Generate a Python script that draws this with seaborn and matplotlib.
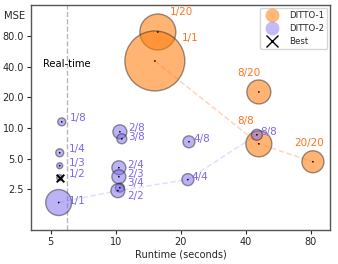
"""
DITTO-1 vs DITTO-2: MSE against runtime, bubble size per configuration.
"""

import pandas as pd
import matplotlib
matplotlib.use("Agg")
import matplotlib.pyplot as plt
from matplotlib.colors import to_rgba
from matplotlib.lines import Line2D
from matplotlib.ticker import FixedLocator, NullLocator
import seaborn as sns

# DITTO-1 configurations
d1_labels = ['1/20', '1/1', '8/20', '8/8', '20/20']
d1_runtime = [15.65, 15.16, 45.9, 45.9, 81.7]
d1_mse = [87.5, 45.5, 22.6, 7.0, 4.67]
d1_bubble = [18, 30, 12, 13, 11]

# DITTO-2 configurations
d2_labels = ['1/8', '2/8', '3/8', '1/4', '1/3', '1/2', '1/1',
             '2/4', '2/3', '3/4', '2/2', '4/8', '4/4', '8/8']
d2_runtime = [5.62, 10.44, 10.66, 5.50, 5.50, 5.50, 5.44,
              10.33, 10.33, 10.44, 10.22, 21.8, 21.55, 44.97]
d2_mse = [11.5, 9.19, 7.85, 5.72, 4.27, 3.26, 1.86,
          4.08, 3.33, 2.60, 2.43, 7.33, 3.12, 8.59]
d2_bubble = [4, 7, 5, 4, 3, 3, 13, 7, 7, 4.5, 7, 6, 6, 5.5]

# diagonal runs joined by a dashed line
d1_path = ['1/1', '8/8', '20/20']
d2_path = ['1/1', '2/2', '4/4', '8/8']

best_label = '1/2'
realtime = 5.95

x_ticks = [5, 10, 20, 40, 80]
y_ticks = [2.5, 5.0, 10.0, 20.0, 40.0, 80.0]

# label offsets in pixels (dx, dy)
d1_offsets = {'1/20': (12, 20), '1/1': (27, 23), '8/20': (-22, 19),
              '8/8': (-22, 23), '20/20': (-19, 19)}
d2_offsets = {'1/8': (8, 4), '2/8': (8, 4), '3/8': (6, 2), '1/4': (9, 4),
              '1/3': (9, 3), '1/2': (9, 4), '1/1': (10, 2), '2/4': (8, 3),
              '2/3': (8, 3), '3/4': (7, 5), '2/2': (9, -5), '4/8': (4, 3),
              '4/4': (4, 3), '8/8': (3, 3)}

ORANGE = '#ff7f0e'
ORANGE_TXT = '#ff7420'
BLUE = '#7b68ee'
BLUE_TXT = '#7b68ee'

d1 = pd.DataFrame({'label': d1_labels, 'runtime': d1_runtime,
                   'mse': d1_mse, 'bubble': d1_bubble})
d2 = pd.DataFrame({'label': d2_labels, 'runtime': d2_runtime,
                   'mse': d2_mse, 'bubble': d2_bubble})


def area(r):
    # radius in px -> marker area in pt^2 (dpi 100)
    return (2 * r * 0.72) ** 2


sns.set_style('ticks')
plt.rcParams['font.family'] = ['DejaVu Sans']

fig = plt.figure(figsize=(3.38, 2.64), dpi=100)
ax = fig.add_axes([31 / 338, 34 / 264, 299 / 338, 225 / 264])
ax.set_xscale('log')
ax.set_yscale('log')

# dashed paths
for df, path, col in [(d1, d1_path, '#ffb89a'), (d2, d2_path, '#cfcaff')]:
    sub = df.set_index('label').loc[path]
    ax.plot(sub['runtime'], sub['mse'], ls='--', color=col, lw=1.1,
            alpha=0.6, zorder=1)

ax.axvline(realtime, color='#b8b8b8', ls='--', lw=1.0, zorder=1)

for df, col, a in [(d1, ORANGE, 0.58), (d2, BLUE, 0.5)]:
    sns.scatterplot(data=df, x='runtime', y='mse', s=area(df['bubble']),
                    facecolor=to_rgba(col, a), edgecolor=(0.1, 0.1, 0.1, 0.45),
                    linewidth=1.0, legend=False, ax=ax, zorder=2)
    sns.scatterplot(data=df, x='runtime', y='mse', s=1.5, color='black',
                    edgecolor='none', legend=False, ax=ax, zorder=3)

best = d2[d2['label'] == best_label]
ax.scatter(best['runtime'], best['mse'], marker='x', s=30, color='black',
           linewidths=1.4, zorder=4)

for df, offs, col in [(d1, d1_offsets, ORANGE_TXT), (d2, d2_offsets, BLUE_TXT)]:
    for _, row in df.iterrows():
        ax.annotate(row['label'], (row['runtime'], row['mse']),
                    xytext=offs[row['label']], textcoords='offset pixels',
                    ha='left', va='center', fontsize=7.5, color=col, zorder=5)

ax.text(realtime, 42.5, 'Real-time', ha='center', va='center', fontsize=7.2,
        color='black', zorder=5)

ax.set_xlim(4.05, 98)
ax.set_ylim(1.0, 161)
ax.xaxis.set_major_locator(FixedLocator(x_ticks))
ax.xaxis.set_minor_locator(NullLocator())
ax.set_xticklabels([str(t) for t in x_ticks])
ax.yaxis.set_major_locator(FixedLocator(y_ticks))
ax.yaxis.set_minor_locator(NullLocator())
ax.set_yticklabels([f'{t:.1f}' for t in y_ticks])
ax.tick_params(labelsize=7, length=3, width=0.8, pad=2)

ax.set_xlabel('Runtime (seconds)', fontsize=7, labelpad=2)
ax.set_ylabel('')
ax.text(-0.02, 0.952, 'MSE', transform=ax.transAxes, ha='right',
        va='center', fontsize=7.2)

for sp in ax.spines.values():
    sp.set_color('#555555')
    sp.set_linewidth(1.0)

handles = [
    Line2D([], [], marker='o', ls='none', markersize=10,
           markerfacecolor=to_rgba(ORANGE, 0.55), markeredgecolor='none'),
    Line2D([], [], marker='o', ls='none', markersize=10,
           markerfacecolor=to_rgba(BLUE, 0.45), markeredgecolor='none'),
    Line2D([], [], marker='x', ls='none', markersize=8, color='black',
           markeredgewidth=1.0),
]
ax.legend(handles, ['DITTO-1', 'DITTO-2', 'Best'], loc='upper right',
          fontsize=6.2, frameon=True, borderaxespad=0.3, handletextpad=0.9,
          labelspacing=0.45, handlelength=2.0)

fig.savefig('out.png', dpi=100)
